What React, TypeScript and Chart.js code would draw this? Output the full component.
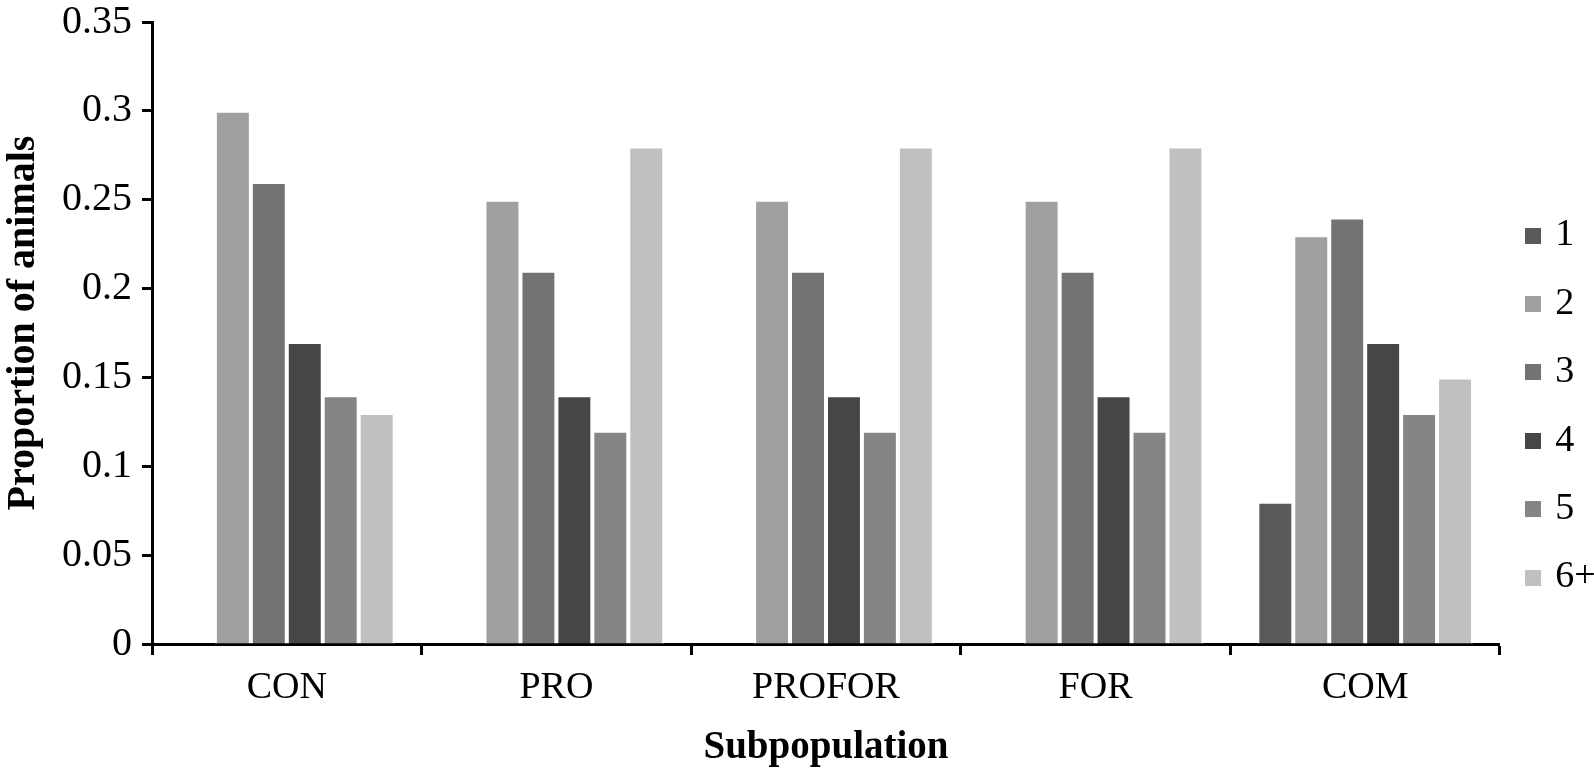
import React, { useEffect, useRef } from 'react';
import { Chart, registerables } from 'chart.js';

Chart.register(...registerables);

const categories = ['CON', 'PRO', 'PROFOR', 'FOR', 'COM'];
const seriesLabels = ['1', '2', '3', '4', '5', '6+'];
const series1 = [0, 0, 0, 0, 0.08];
const series2 = [0.3, 0.25, 0.25, 0.25, 0.23];
const series3 = [0.26, 0.21, 0.21, 0.21, 0.24];
const series4 = [0.17, 0.14, 0.14, 0.14, 0.17];
const series5 = [0.14, 0.12, 0.12, 0.12, 0.13];
const series6 = [0.13, 0.28, 0.28, 0.28, 0.15];
const seriesColors = ['#595959', '#a0a0a0', '#737373', '#464646', '#858585', '#c0c0c0'];
const yMin = 0;
const yMax = 0.35;
const yStep = 0.05;

const FONT = '"Liberation Serif", "Times New Roman", serif';

function makeSwatch(color: string) {
  const c = document.createElement('canvas');
  c.width = 16;
  c.height = 16;
  const ctx = c.getContext('2d');
  if (ctx) {
    ctx.fillStyle = color;
    ctx.fillRect(0, 0, 16, 16);
  }
  return c;
}

export default function App() {
  const ref = useRef<HTMLCanvasElement | null>(null);

  useEffect(() => {
    if (!ref.current) return;
    const values = [series1, series2, series3, series4, series5, series6];
    const swatches = seriesColors.map(makeSwatch);
    const chart = new Chart(ref.current, {
      type: 'bar',
      data: {
        labels: categories,
        datasets: seriesLabels.map((label, i) => ({
          label,
          data: values[i],
          backgroundColor: seriesColors[i],
          borderColor: '#ffffff',
          borderWidth: 2,
          categoryPercentage: 0.8,
          barPercentage: 1.0,
        })),
      },
      options: {
        animation: false,
        responsive: false,
        maintainAspectRatio: false,
        layout: { padding: { left: 0, right: -11.8, top: 22, bottom: -21 } },
        plugins: {
          tooltip: { enabled: false },
          legend: {
            position: 'right',
            labels: {
              usePointStyle: true,
              pointStyleWidth: 6,
              boxWidth: 16,
              boxHeight: 16,
              padding: 30.4,
              color: '#000',
              font: { family: FONT, size: 38 },
              generateLabels: (c: any) => {
                const items = (Chart as any).defaults.plugins.legend.labels.generateLabels(c);
                return items.map((it: any, i: number) => ({ ...it, pointStyle: swatches[i], lineWidth: 0 }));
              },
            },
          },
        },
        scales: {
          x: {
            grid: {
              display: true,
              offset: true,
              drawOnChartArea: false,
              drawTicks: true,
              tickLength: 11,
              tickWidth: 3,
              tickColor: '#000',
            },
            border: { display: true, color: '#000', width: 3 },
            ticks: {
              color: '#000',
              padding: 10,
              font: { family: FONT, size: 38 },
            },
            title: {
              display: true,
              text: 'Subpopulation',
              color: '#000',
              padding: { top: 4, bottom: 20 },
              font: { family: FONT, size: 39, weight: 'bold' },
            },
            afterFit: (scale: any) => {
              scale.height = 147;
              scale.paddingLeft = 0;
              scale.paddingRight = 0;
            },
          },
          y: {
            min: yMin,
            max: yMax,
            grid: {
              display: true,
              drawOnChartArea: false,
              drawTicks: true,
              tickLength: 10,
              tickWidth: 3,
              tickColor: '#000',
            },
            border: { display: true, color: '#000', width: 3 },
            ticks: {
              stepSize: yStep,
              color: '#000',
              padding: 10,
              font: { family: FONT, size: 40 },
              callback: (v: any) => String(Number(Number(v).toFixed(2))),
            },
            title: {
              display: true,
              text: '  Proportion of animals',
              color: '#000',
              padding: { top: 0, bottom: 0 },
              font: { family: FONT, size: 40, weight: 'bold' },
            },
            afterFit: (scale: any) => {
              scale.width = 152;
              scale.paddingTop = 0;
              scale.paddingBottom = 0;
            },
          },
        },
      },
    });
    return () => chart.destroy();
  }, []);

  return (
    <div style={{ position: 'absolute', left: 0, top: 0, width: 1594, height: 770, background: '#fff' }}>
      <canvas ref={ref} width={1594} height={770} style={{ width: 1594, height: 770 }} />
    </div>
  );
}
